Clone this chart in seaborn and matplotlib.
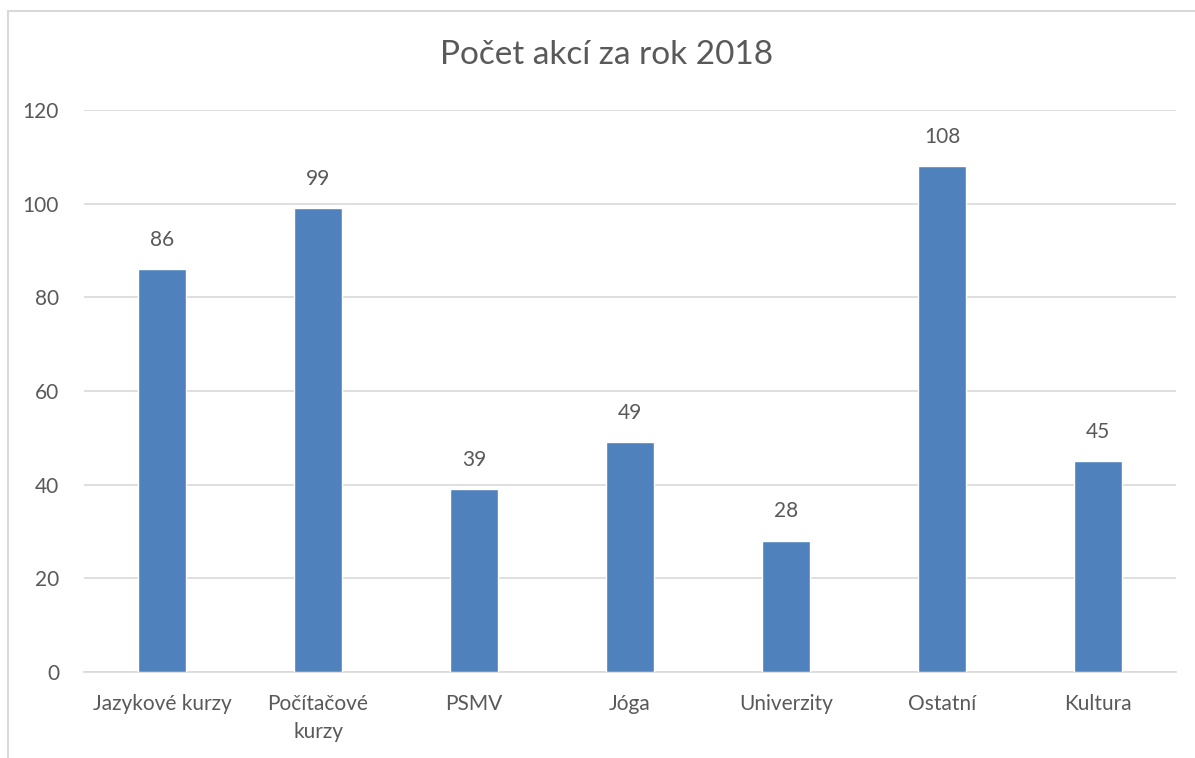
import matplotlib
matplotlib.use("Agg")
import matplotlib.pyplot as plt
from matplotlib.lines import Line2D
import pandas as pd
import seaborn as sns

# data
categories = ["Jazykové kurzy", "Počítačové\nkurzy", "PSMV", "Jóga", "Univerzity", "Ostatní", "Kultura"]
values = [86, 99, 39, 49, 28, 108, 45]
y_ticks = [0, 20, 40, 60, 80, 100, 120]
title = "Počet akcí za rok 2018"

BAR_COLOR = "#4F81BD"
TEXT_COLOR = "#595959"
GRID_COLOR = "#D9D9D9"

sns.set_theme(style="white")
plt.rcParams["font.family"] = ["Lato", "DejaVu Sans"]

df = pd.DataFrame({"kategorie": categories, "pocet": values})

fig = plt.figure(figsize=(11.95, 7.58), dpi=100)
ax = fig.add_axes([0.0703, 0.1135, 0.914, 0.7414])

sns.barplot(data=df, x="kategorie", y="pocet", color=BAR_COLOR, width=0.31,
            saturation=1, ax=ax, zorder=3)

ax.set_ylim(0, 120)
ax.set_yticks(y_ticks)
ax.set_xlim(-0.5, len(categories) - 0.5)
ax.yaxis.grid(True, color=GRID_COLOR, linewidth=1.2, zorder=0)
ax.xaxis.grid(False)
for side in ["left", "right", "top"]:
    ax.spines[side].set_visible(False)
ax.spines["bottom"].set_color(GRID_COLOR)
ax.spines["bottom"].set_linewidth(1.2)

ax.tick_params(axis="both", length=0, labelsize=15, colors=TEXT_COLOR)
ax.tick_params(axis="y", pad=18)
ax.tick_params(axis="x", pad=16)
for lbl in ax.get_xticklabels():
    lbl.set_linespacing(1.5)
ax.set_xlabel("")
ax.set_ylabel("")

# popisky hodnot
for container in ax.containers:
    ax.bar_label(container, fmt="%d", padding=14, fontsize=15, color=TEXT_COLOR)

fig.text(0.508, 1 - 55 / 758, title, ha="center", va="center", fontsize=24, color=TEXT_COLOR)

# ramecek grafu
fig.add_artist(Line2D([8 / 1195, 8 / 1195], [0, 1 - 11 / 758], transform=fig.transFigure,
                      color=GRID_COLOR, linewidth=1.5))
fig.add_artist(Line2D([8 / 1195, 1], [1 - 11 / 758, 1 - 11 / 758], transform=fig.transFigure,
                      color=GRID_COLOR, linewidth=1.5))

fig.savefig("out.png", dpi=100)
